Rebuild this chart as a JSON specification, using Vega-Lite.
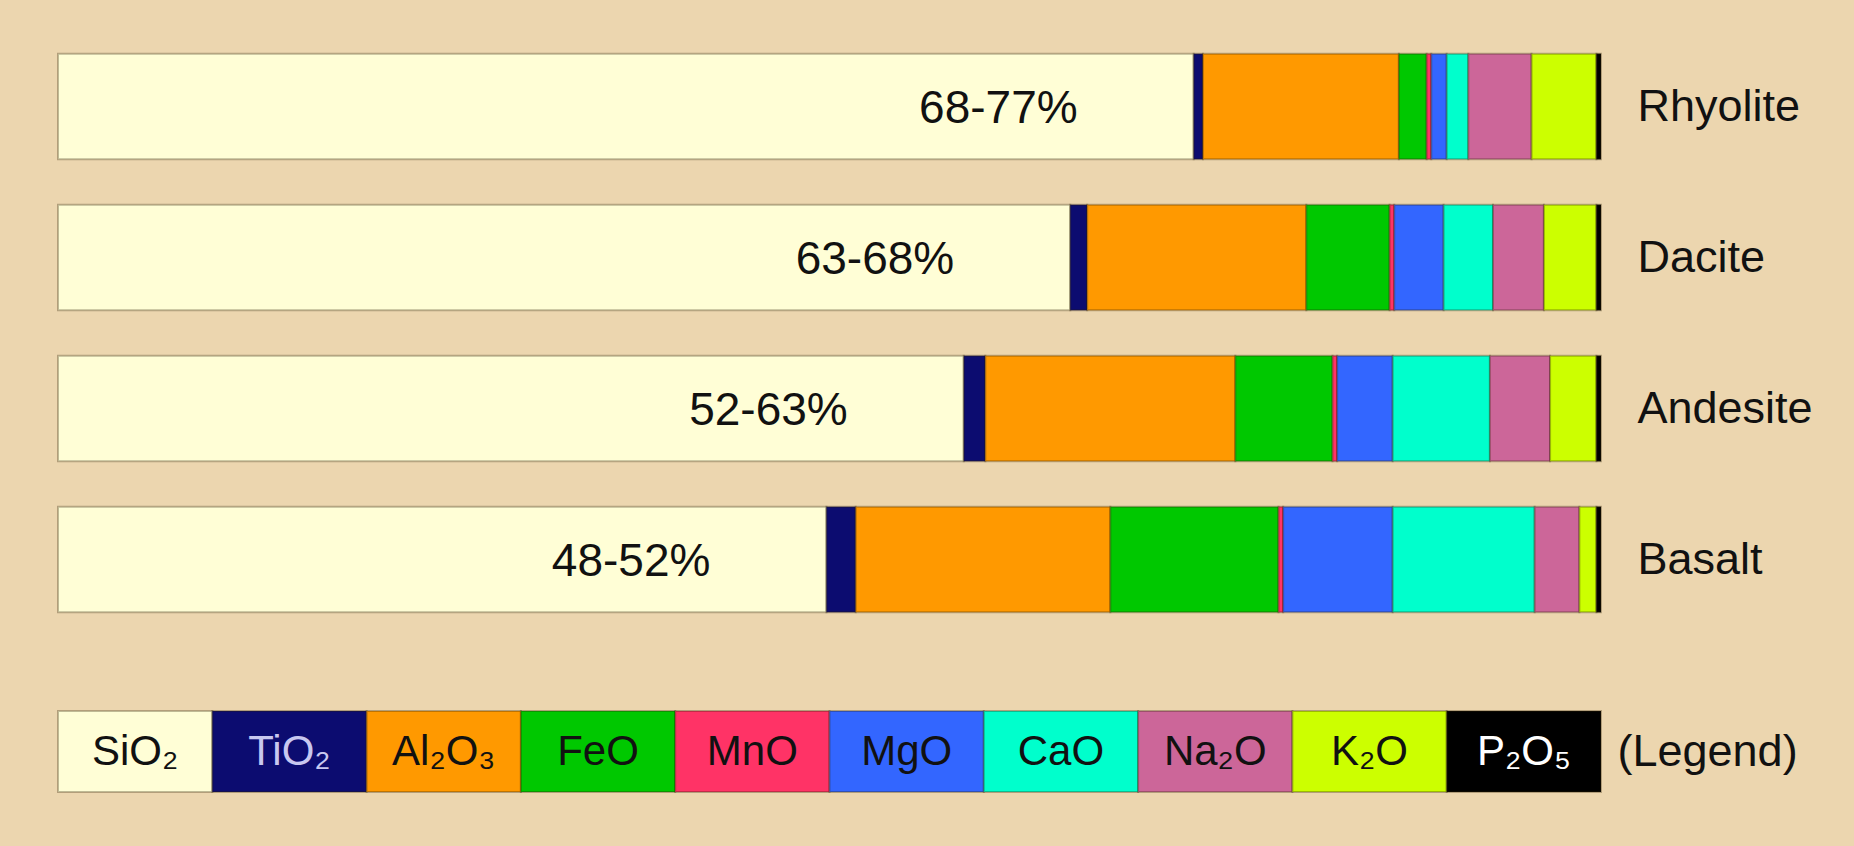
{
  "$schema": "https://vega.github.io/schema/vega-lite/v6.json",
  "background": "#ECD6AF",
  "padding": {"left": 57, "top": 31, "right": 100, "bottom": 60},
  "spacing": 75,
  "config": {
    "view": {"stroke": null},
    "font": "Liberation Sans, Arial, sans-serif"
  },
  "datasets": {
    "rocks": [
      {"rock": "Rhyolite", "oxide": "SiO2", "n": 1, "pct": 73.6, "range": "68-77%"},
      {"rock": "Rhyolite", "oxide": "TiO2", "n": 2, "pct": 0.6},
      {"rock": "Rhyolite", "oxide": "Al2O3", "n": 3, "pct": 12.7},
      {"rock": "Rhyolite", "oxide": "FeO", "n": 4, "pct": 1.8},
      {"rock": "Rhyolite", "oxide": "MnO", "n": 5, "pct": 0.3},
      {"rock": "Rhyolite", "oxide": "MgO", "n": 6, "pct": 1.0},
      {"rock": "Rhyolite", "oxide": "CaO", "n": 7, "pct": 1.4},
      {"rock": "Rhyolite", "oxide": "Na2O", "n": 8, "pct": 4.1},
      {"rock": "Rhyolite", "oxide": "K2O", "n": 9, "pct": 4.2},
      {"rock": "Rhyolite", "oxide": "P2O5", "n": 10, "pct": 0.3},
      {"rock": "Dacite", "oxide": "SiO2", "n": 1, "pct": 65.6, "range": "63-68%"},
      {"rock": "Dacite", "oxide": "TiO2", "n": 2, "pct": 1.1},
      {"rock": "Dacite", "oxide": "Al2O3", "n": 3, "pct": 14.2},
      {"rock": "Dacite", "oxide": "FeO", "n": 4, "pct": 5.4},
      {"rock": "Dacite", "oxide": "MnO", "n": 5, "pct": 0.3},
      {"rock": "Dacite", "oxide": "MgO", "n": 6, "pct": 3.2},
      {"rock": "Dacite", "oxide": "CaO", "n": 7, "pct": 3.2},
      {"rock": "Dacite", "oxide": "Na2O", "n": 8, "pct": 3.3},
      {"rock": "Dacite", "oxide": "K2O", "n": 9, "pct": 3.4},
      {"rock": "Dacite", "oxide": "P2O5", "n": 10, "pct": 0.3},
      {"rock": "Andesite", "oxide": "SiO2", "n": 1, "pct": 58.7, "range": "52-63%"},
      {"rock": "Andesite", "oxide": "TiO2", "n": 2, "pct": 1.4},
      {"rock": "Andesite", "oxide": "Al2O3", "n": 3, "pct": 16.2},
      {"rock": "Andesite", "oxide": "FeO", "n": 4, "pct": 6.3},
      {"rock": "Andesite", "oxide": "MnO", "n": 5, "pct": 0.3},
      {"rock": "Andesite", "oxide": "MgO", "n": 6, "pct": 3.6},
      {"rock": "Andesite", "oxide": "CaO", "n": 7, "pct": 6.3},
      {"rock": "Andesite", "oxide": "Na2O", "n": 8, "pct": 3.9},
      {"rock": "Andesite", "oxide": "K2O", "n": 9, "pct": 3.0},
      {"rock": "Andesite", "oxide": "P2O5", "n": 10, "pct": 0.3},
      {"rock": "Basalt", "oxide": "SiO2", "n": 1, "pct": 49.8, "range": "48-52%"},
      {"rock": "Basalt", "oxide": "TiO2", "n": 2, "pct": 1.9},
      {"rock": "Basalt", "oxide": "Al2O3", "n": 3, "pct": 16.5},
      {"rock": "Basalt", "oxide": "FeO", "n": 4, "pct": 10.9},
      {"rock": "Basalt", "oxide": "MnO", "n": 5, "pct": 0.3},
      {"rock": "Basalt", "oxide": "MgO", "n": 6, "pct": 7.1},
      {"rock": "Basalt", "oxide": "CaO", "n": 7, "pct": 9.2},
      {"rock": "Basalt", "oxide": "Na2O", "n": 8, "pct": 2.9},
      {"rock": "Basalt", "oxide": "K2O", "n": 9, "pct": 1.1},
      {"rock": "Basalt", "oxide": "P2O5", "n": 10, "pct": 0.3}
    ],
    "oxides": [
      {"row": "(Legend)", "oxide": "SiO2", "label": "SiO₂"},
      {"row": "(Legend)", "oxide": "TiO2", "label": "TiO₂"},
      {"row": "(Legend)", "oxide": "Al2O3", "label": "Al₂O₃"},
      {"row": "(Legend)", "oxide": "FeO", "label": "FeO"},
      {"row": "(Legend)", "oxide": "MnO", "label": "MnO"},
      {"row": "(Legend)", "oxide": "MgO", "label": "MgO"},
      {"row": "(Legend)", "oxide": "CaO", "label": "CaO"},
      {"row": "(Legend)", "oxide": "Na2O", "label": "Na₂O"},
      {"row": "(Legend)", "oxide": "K2O", "label": "K₂O"},
      {"row": "(Legend)", "oxide": "P2O5", "label": "P₂O₅"}
    ]
  },
  "vconcat": [
    {
      "width": 1543,
      "height": 604,
      "data": {"name": "rocks"},
      "layer": [
        {
          "mark": {"type": "bar", "stroke": "#2b1d00", "strokeOpacity": 0.3, "strokeWidth": 2},
          "encoding": {
            "y": {
              "field": "rock", "type": "nominal",
              "sort": ["Rhyolite", "Dacite", "Andesite", "Basalt"],
              "scale": {"paddingInner": 0.3, "paddingOuter": 0.15},
              "axis": {"orient": "right", "title": null, "ticks": false, "tickSize": 0, "domain": false, "labelFontSize": 45, "labelColor": "#111111", "labelPadding": 36, "labelLimit": 0}
            },
            "x": {"field": "pct", "type": "quantitative", "stack": "zero", "scale": {"domain": [0, 100], "nice": false, "zero": true}, "axis": null},
            "color": {
              "field": "oxide", "type": "nominal",
              "scale": {
                "domain": ["SiO2", "TiO2", "Al2O3", "FeO", "MnO", "MgO", "CaO", "Na2O", "K2O", "P2O5"],
                "range": ["#FFFED6", "#0C0C70", "#FF9900", "#00C800", "#FF3366", "#3366FF", "#00FFCC", "#CC6699", "#CCFF00", "#000000"]
              },
              "legend": null
            },
            "order": {"field": "n", "type": "quantitative"}
          }
        },
        {
          "transform": [{"filter": "datum.oxide === 'SiO2'"}],
          "mark": {"type": "text", "align": "right", "baseline": "middle", "dx": -116, "dy": 2, "fontSize": 46, "color": "#111111"},
          "encoding": {
            "y": {"field": "rock", "type": "nominal", "sort": ["Rhyolite", "Dacite", "Andesite", "Basalt"]},
            "x": {"field": "pct", "type": "quantitative"},
            "text": {"field": "range", "type": "nominal"}
          }
        }
      ]
    },
    {
      "width": 1543,
      "height": 81,
      "data": {"name": "oxides"},
      "layer": [
        {
          "mark": {"type": "bar", "stroke": "#2b1d00", "strokeOpacity": 0.3, "strokeWidth": 2},
          "encoding": {
            "x": {
              "field": "oxide", "type": "nominal",
              "sort": ["SiO2", "TiO2", "Al2O3", "FeO", "MnO", "MgO", "CaO", "Na2O", "K2O", "P2O5"],
              "scale": {"paddingInner": 0, "paddingOuter": 0},
              "axis": null
            },
            "y": {
              "field": "row", "type": "nominal",
              "scale": {"paddingInner": 0, "paddingOuter": 0},
              "axis": {"orient": "right", "title": null, "ticks": false, "tickSize": 0, "domain": false, "labelFontSize": 45, "labelColor": "#111111", "labelPadding": 16, "labelLimit": 0}
            },
            "color": {
              "field": "oxide", "type": "nominal",
              "scale": {
                "domain": ["SiO2", "TiO2", "Al2O3", "FeO", "MnO", "MgO", "CaO", "Na2O", "K2O", "P2O5"],
                "range": ["#FFFED6", "#0C0C70", "#FF9900", "#00C800", "#FF3366", "#3366FF", "#00FFCC", "#CC6699", "#CCFF00", "#000000"]
              },
              "legend": null
            }
          }
        },
        {
          "mark": {"type": "text", "baseline": "middle", "align": "center", "fontSize": 42},
          "encoding": {
            "x": {"field": "oxide", "type": "nominal", "sort": ["SiO2", "TiO2", "Al2O3", "FeO", "MnO", "MgO", "CaO", "Na2O", "K2O", "P2O5"]},
            "y": {"field": "row", "type": "nominal"},
            "text": {"field": "label", "type": "nominal"},
            "color": {
              "condition": [
                {"test": "datum.oxide === 'TiO2'", "value": "#C8C8F0"},
                {"test": "datum.oxide === 'P2O5'", "value": "#FFFFFF"}
              ],
              "value": "#111111"
            }
          }
        }
      ]
    }
  ]
}
